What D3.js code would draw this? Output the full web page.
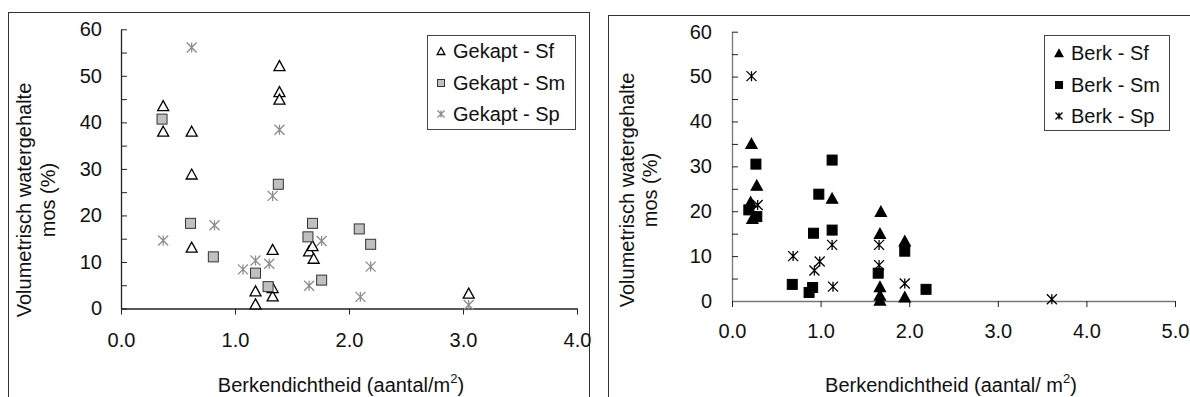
<!DOCTYPE html>
<html>
<head>
<meta charset="utf-8">
<script src="https://cdn.jsdelivr.net/npm/d3@7"></script>
<style>
  body { margin: 0; background: #fff; }
  text { font-family: "Liberation Sans", Arial, sans-serif; }
</style>
</head>
<body>
<div id="chart"></div>
<script>
var width = 1190, height = 397;

// Gekapt (left panel) - [berkendichtheid, watergehalte]
var gekaptSf = [[0.37, 43.6], [0.37, 38.1], [0.62, 38.1], [0.62, 28.9], [0.62, 13.2],
    [1.39, 52.2], [1.39, 46.6], [1.39, 45.0], [1.33, 12.7], [1.18, 3.8], [1.18, 1.0],
    [1.33, 2.7], [1.33, 4.5], [1.65, 12.4], [1.69, 10.8], [1.68, 13.5], [3.05, 3.3]];
var gekaptSm = [[0.36, 40.7], [0.61, 18.3], [0.81, 11.1], [1.18, 7.6], [1.29, 4.7],
    [1.38, 26.7], [1.64, 15.4], [1.68, 18.3], [1.76, 6.1], [2.09, 17.1], [2.19, 13.8]];
var gekaptSp = [[0.62, 56.1], [0.37, 14.6], [0.82, 17.9], [1.07, 8.4], [1.18, 10.3],
    [1.30, 9.6], [1.33, 24.2], [1.39, 38.4], [1.65, 4.9], [1.76, 14.5], [2.19, 9.0],
    [2.10, 2.5], [3.05, 0.75]];

// Berk (right panel)
var berkSf = [[0.22, 35.1], [0.28, 25.8], [0.23, 18.4], [0.21, 22.1], [1.13, 22.9],
    [1.68, 20.0], [1.67, 15.1], [1.67, 3.2], [1.67, 1.3], [1.67, 0.2], [1.95, 13.4], [1.95, 0.95]];
var berkSm = [[0.27, 30.5], [0.19, 20.3], [0.28, 18.8], [0.98, 23.8], [1.13, 31.4],
    [0.92, 15.1], [1.13, 15.8], [0.68, 3.7], [0.87, 1.9], [0.91, 3.0], [1.65, 6.2],
    [1.95, 11.1], [2.19, 2.6]];
var berkSp = [[0.22, 50.1], [0.29, 21.4], [0.69, 10.0], [0.93, 6.8], [0.99, 8.8],
    [1.13, 12.5], [1.14, 3.2], [1.66, 12.5], [1.66, 8.0], [1.95, 3.9], [3.61, 0.4]];

var yTicks = [0, 5, 10, 15, 20, 25, 30, 35, 40, 45, 50, 55, 60];
var leftXTicks = [0, 1, 2, 3, 4];
var rightXTicks = [0, 1, 2, 3, 4, 5];
var leftLegend = ["Gekapt - Sf", "Gekapt - Sm", "Gekapt - Sp"];
var rightLegend = ["Berk - Sf", "Berk - Sm", "Berk - Sp"];

var svg = d3.select("#chart").append("svg")
    .attr("width", width)
    .attr("height", height);

function triPath(w, h) {
    return "M0," + (-h / 2) + "L" + (w / 2) + "," + (h / 2) + "L" + (-w / 2) + "," + (h / 2) + "Z";
}
function starPath(s) {
    return "M" + (-s) + "," + (-s) + "L" + s + "," + s +
        "M" + (-s) + "," + s + "L" + s + "," + (-s) +
        "M0," + (-s) + "L0," + s;
}

// draws one marker of a given style at (x, y)
function marker(g, kind, style, x, y, small) {
    var k = small ? 0.7 : 1;
    if (kind == "tri") {
        g.append("path")
            .attr("d", triPath(11 * k, 10 * k))
            .attr("transform", "translate(" + x + "," + y + ")")
            .attr("fill", style.triFill)
            .attr("stroke", "#000")
            .attr("stroke-width", 1.3);
    } else if (kind == "sq") {
        var s = 10 * k;
        g.append("rect")
            .attr("x", x - s / 2).attr("y", y - s / 2)
            .attr("width", s).attr("height", s)
            .attr("fill", style.sqFill)
            .attr("stroke", style.sqStroke)
            .attr("stroke-width", 1);
    } else {
        g.append("path")
            .attr("d", starPath(5 * k))
            .attr("transform", "translate(" + x + "," + y + ")")
            .attr("fill", "none")
            .attr("stroke", style.starColor)
            .attr("stroke-width", 1.3);
    }
}

function drawPanel(p) {
    var g = svg.append("g");

    // outer frame
    g.append("rect")
        .attr("x", p.frame[0] + 0.5).attr("y", p.frame[1] + 0.5)
        .attr("width", p.frame[2]).attr("height", 500)
        .attr("fill", "none")
        .attr("stroke", "#333")
        .attr("stroke-width", 1);

    var xScale = d3.scaleLinear().domain([0, p.xMax]).range(p.xRange);
    var yScale = d3.scaleLinear().domain([0, 60]).range(p.yRange);

    // y axis
    var yAxis = g.append("g")
        .attr("transform", "translate(" + p.xRange[0] + ",0)")
        .call(d3.axisLeft(yScale)
            .tickValues(yTicks)
            .tickSizeInner(-6)
            .tickSizeOuter(0)
            .tickPadding(p.yPad)
            .tickFormat(function(d) { return d % 10 == 0 ? d : ""; }));

    // x axis
    var xAxis = g.append("g")
        .attr("transform", "translate(0," + p.yRange[0] + ")")
        .call(d3.axisBottom(xScale)
            .tickValues(p.xTicks)
            .tickSizeInner(6)
            .tickSizeOuter(0)
            .tickPadding(p.xPad)
            .tickFormat(d3.format(".1f")));

    [yAxis, xAxis].forEach(function(a) {
        a.attr("font-size", 20).attr("font-family", "Liberation Sans, Arial, sans-serif");
        a.selectAll("text").attr("fill", "#111");
        a.selectAll(".tick line").attr("stroke", "#222");
        a.select(".domain").attr("stroke", p.axisColor).attr("stroke-width", 1.3);
    });

    // markers, in series order
    var pts = g.append("g");
    p.series.forEach(function(s) {
        s.data.forEach(function(d) {
            marker(pts, s.kind, p.style, xScale(d[0]), yScale(d[1]), false);
        });
    });

    // y title (two lines)
    g.append("text")
        .attr("transform", "translate(" + p.yTitleX[0] + "," + p.yTitleY + ") rotate(-90)")
        .attr("text-anchor", "middle")
        .attr("font-size", 20)
        .attr("fill", "#111")
        .text("Volumetrisch watergehalte");
    g.append("text")
        .attr("transform", "translate(" + p.yTitleX[1] + "," + p.yTitleY + ") rotate(-90)")
        .attr("text-anchor", "middle")
        .attr("font-size", 20)
        .attr("fill", "#111")
        .text("mos (%)");

    // x title
    var xt = g.append("text")
        .attr("x", p.xTitleX)
        .attr("y", 392)
        .attr("text-anchor", "middle")
        .attr("font-size", 20)
        .attr("fill", "#111");
    xt.append("tspan").text(p.xTitle);
    xt.append("tspan").attr("font-size", 13).attr("dy", -9).text("2");
    xt.append("tspan").attr("dy", 9).text(")");

    // legend
    var lg = g.append("g");
    lg.append("rect")
        .attr("x", p.legBox[0] + 0.5).attr("y", p.legBox[1] + 0.5)
        .attr("width", p.legBox[2]).attr("height", p.legBox[3])
        .attr("fill", "#fff")
        .attr("stroke", "#444")
        .attr("stroke-width", 1);
    p.series.forEach(function(s, i) {
        marker(lg, s.kind, p.style, p.legMarkX, p.legBase[i] - 7, true);
        lg.append("text")
            .attr("x", p.legTextX)
            .attr("y", p.legBase[i])
            .attr("font-size", 20)
            .attr("fill", "#111")
            .text(p.legend[i]);
    });
}

drawPanel({
    frame: [8, 12, 581],
    xMax: 4, xRange: [121, 577], yRange: [308.5, 29.3],
    xTicks: leftXTicks, yPad: 19, xPad: 18,
    axisColor: "#222",
    style: { triFill: "#fff", sqFill: "#c0c0c0", sqStroke: "#333", starColor: "#8c8c8c" },
    series: [{ kind: "tri", data: gekaptSf }, { kind: "sq", data: gekaptSm }, { kind: "star", data: gekaptSp }],
    yTitleX: [31, 55], yTitleY: 200,
    xTitle: "Berkendichtheid (aantal/m", xTitleX: 341,
    legBox: [427, 35, 148, 94], legMarkX: 441, legTextX: 453, legBase: [58, 90, 121],
    legend: leftLegend
});

drawPanel({
    frame: [608, 15, 700],
    xMax: 5, xRange: [732, 1175], yRange: [301, 31.7],
    xTicks: rightXTicks, yPad: 20, xPad: 17,
    axisColor: "#777",
    style: { triFill: "#000", sqFill: "#000", sqStroke: "#000", starColor: "#000" },
    series: [{ kind: "tri", data: berkSf }, { kind: "sq", data: berkSm }, { kind: "star", data: berkSp }],
    yTitleX: [634, 657], yTitleY: 190,
    xTitle: "Berkendichtheid (aantal/ m", xTitleX: 951,
    legBox: [1044, 35, 125, 95], legMarkX: 1059, legTextX: 1071, legBase: [60, 92, 123],
    legend: rightLegend
});
</script>
</body>
</html>
